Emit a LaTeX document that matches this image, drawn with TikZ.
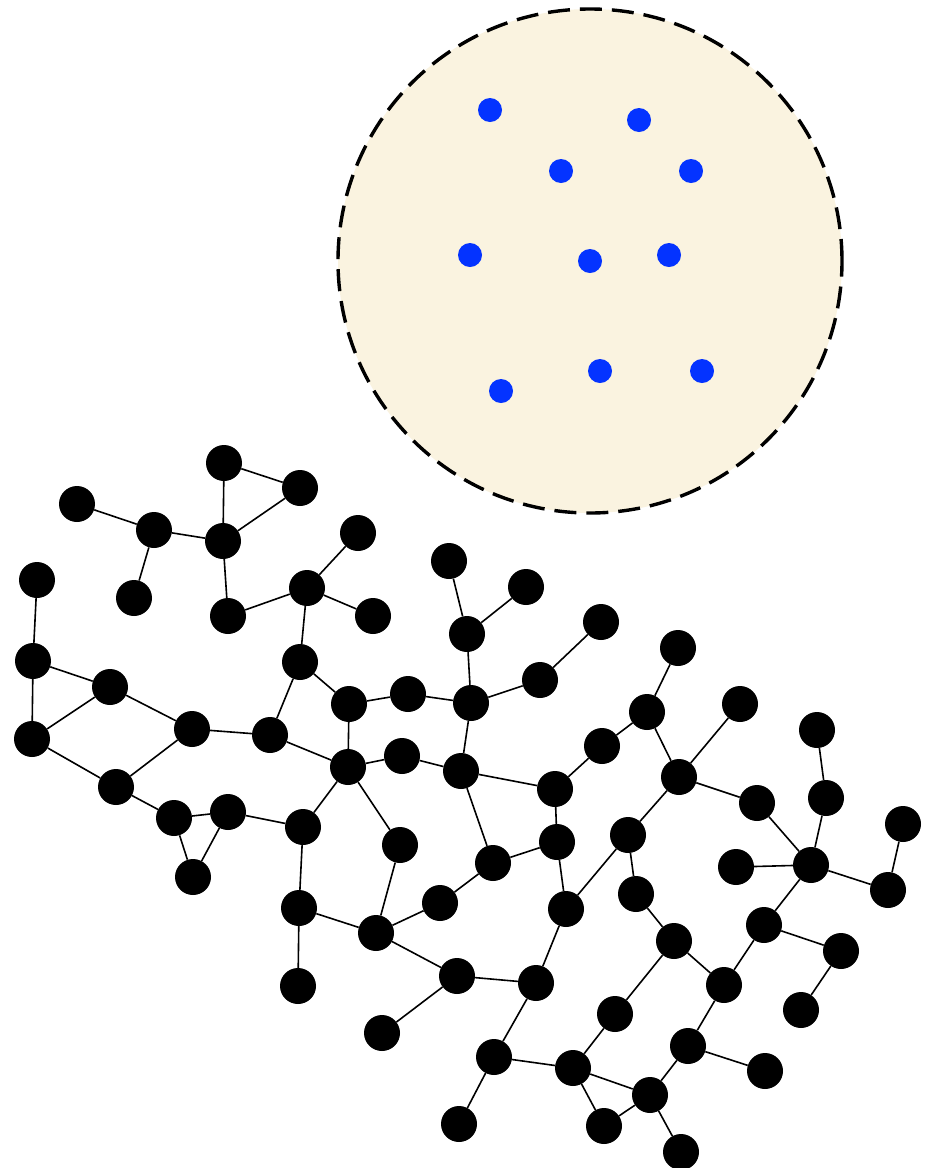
\documentclass[tikz,border=0pt]{standalone}
\usepackage{tikz}
\usetikzlibrary{arrows.meta,positioning}
\definecolor{cream}{HTML}{FAF3E0}
\definecolor{dotblue}{HTML}{0433FF}
\tikzset{
  vertex/.style={
    circle, fill=black, draw=none,
    minimum size=36pt, inner sep=0pt
  },
  dotnode/.style={
    circle, fill=dotblue, draw=none,
    minimum size=24pt, inner sep=0pt
  },
  edge/.style={
    line width=1.6pt, color=black
  },
  poolring/.style={
    circle, fill=cream, draw=black, line width=3.4pt,
    dash pattern=on 22pt off 10pt,
    minimum size=504pt, inner sep=0pt
  },
}

\begin{document}
\begin{tikzpicture}[x=1pt, y=-1pt]

\useasboundingbox (0,0) rectangle (928,1168);

% POOL: dashed disc with loose points
\node[poolring] (pool) at (590,261) {};
\node[dotnode] (p1) at (490,110) {};
\node[dotnode] (p2) at (639,120) {};
\node[dotnode] (p3) at (561,171) {};
\node[dotnode] (p4) at (691,171) {};
\node[dotnode] (p5) at (470,255) {};
\node[dotnode] (p6) at (590,261) {};
\node[dotnode] (p7) at (669,255) {};
\node[dotnode] (p8) at (501,391) {};
\node[dotnode] (p9) at (600,371) {};
\node[dotnode] (p10) at (702,371) {};

% GRAPH: upper left cluster
\node[vertex] (v1) at (224,463) {};
\node[vertex] (v2) at (300,488) {};
\node[vertex] (v3) at (223,541) {};
\node[vertex] (v4) at (154,530) {};
\node[vertex] (v5) at (77,504) {};
\node[vertex] (v6) at (134,598) {};
\node[vertex] (v7) at (228,616) {};
\node[vertex] (v8) at (307,588) {};
\node[vertex] (v9) at (358,533) {};
\node[vertex] (v10) at (373,616) {};

% left side
\node[vertex] (v11) at (37,580) {};
\node[vertex] (v12) at (33,661) {};
\node[vertex] (v13) at (110,687) {};
\node[vertex] (v14) at (32,739) {};
\node[vertex] (v15) at (192,729) {};
\node[vertex] (v16) at (116,787) {};
\node[vertex] (v17) at (174,818) {};
\node[vertex] (v18) at (228,812) {};
\node[vertex] (v19) at (193,877) {};
\node[vertex] (v20) at (270,735) {};

% middle
\node[vertex] (v21) at (300,662) {};
\node[vertex] (v22) at (349,704) {};
\node[vertex] (v23) at (408,694) {};
\node[vertex] (v24) at (471,703) {};
\node[vertex] (v25) at (467,634) {};
\node[vertex] (v26) at (449,561) {};
\node[vertex] (v27) at (526,587) {};
\node[vertex] (v28) at (540,680) {};
\node[vertex] (v29) at (601,622) {};
\node[vertex] (v30) at (348,767) {};
\node[vertex] (v31) at (402,756) {};
\node[vertex] (v32) at (461,771) {};
\node[vertex] (v33) at (555,789) {};
\node[vertex] (v34) at (602,746) {};
\node[vertex] (v35) at (647,712) {};
\node[vertex] (v36) at (678,648) {};
\node[vertex] (v37) at (679,777) {};
\node[vertex] (v38) at (740,704) {};

% lower middle
\node[vertex] (v39) at (303,827) {};
\node[vertex] (v40) at (400,845) {};
\node[vertex] (v41) at (493,863) {};
\node[vertex] (v42) at (557,842) {};
\node[vertex] (v43) at (299,908) {};
\node[vertex] (v44) at (298,986) {};
\node[vertex] (v45) at (376,933) {};
\node[vertex] (v46) at (440,903) {};
\node[vertex] (v47) at (566,909) {};
\node[vertex] (v48) at (628,835) {};
\node[vertex] (v49) at (636,894) {};
\node[vertex] (v50) at (674,941) {};
\node[vertex] (v51) at (457,976) {};
\node[vertex] (v52) at (536,983) {};
\node[vertex] (v53) at (382,1033) {};

% bottom
\node[vertex] (v54) at (494,1057) {};
\node[vertex] (v55) at (459,1124) {};
\node[vertex] (v56) at (573,1068) {};
\node[vertex] (v57) at (615,1014) {};
\node[vertex] (v58) at (604,1126) {};
\node[vertex] (v59) at (650,1095) {};
\node[vertex] (v60) at (681,1152) {};
\node[vertex] (v61) at (688,1046) {};
\node[vertex] (v62) at (724,985) {};
\node[vertex] (v63) at (765,1071) {};

% right side
\node[vertex] (v64) at (764,925) {};
\node[vertex] (v65) at (841,951) {};
\node[vertex] (v66) at (801,1010) {};
\node[vertex] (v67) at (757,803) {};
\node[vertex] (v68) at (817,730) {};
\node[vertex] (v69) at (826,798) {};
\node[vertex] (v70) at (811,865) {};
\node[vertex] (v71) at (736,867) {};
\node[vertex] (v72) at (888,890) {};
\node[vertex] (v73) at (903,824) {};

% Edges: upper left cluster
\draw[edge] (v1) -- (v2);
\draw[edge] (v1) -- (v3);
\draw[edge] (v2) -- (v3);
\draw[edge] (v4) -- (v5);
\draw[edge] (v4) -- (v3);
\draw[edge] (v4) -- (v6);
\draw[edge] (v3) -- (v7);
\draw[edge] (v7) -- (v8);
\draw[edge] (v8) -- (v9);
\draw[edge] (v8) -- (v10);
\draw[edge] (v8) -- (v21);

% Edges: left side
\draw[edge] (v11) -- (v12);
\draw[edge] (v12) -- (v13);
\draw[edge] (v12) -- (v14);
\draw[edge] (v14) -- (v13);
\draw[edge] (v13) -- (v15);
\draw[edge] (v14) -- (v16);
\draw[edge] (v16) -- (v15);
\draw[edge] (v15) -- (v20);
\draw[edge] (v16) -- (v17);
\draw[edge] (v17) -- (v18);
\draw[edge] (v17) -- (v19);
\draw[edge] (v18) -- (v19);
\draw[edge] (v18) -- (v39);

% Edges: middle
\draw[edge] (v21) -- (v20);
\draw[edge] (v21) -- (v22);
\draw[edge] (v20) -- (v30);
\draw[edge] (v22) -- (v30);
\draw[edge] (v22) -- (v23);
\draw[edge] (v23) -- (v24);
\draw[edge] (v24) -- (v25);
\draw[edge] (v25) -- (v26);
\draw[edge] (v25) -- (v27);
\draw[edge] (v24) -- (v28);
\draw[edge] (v28) -- (v29);
\draw[edge] (v24) -- (v32);
\draw[edge] (v30) -- (v31);
\draw[edge] (v31) -- (v32);
\draw[edge] (v32) -- (v33);
\draw[edge] (v32) -- (v41);
\draw[edge] (v30) -- (v39);
\draw[edge] (v30) -- (v40);
\draw[edge] (v33) -- (v34);
\draw[edge] (v34) -- (v35);
\draw[edge] (v35) -- (v36);
\draw[edge] (v35) -- (v37);
\draw[edge] (v37) -- (v38);
\draw[edge] (v37) -- (v67);
\draw[edge] (v37) -- (v48);

% Edges: lower middle
\draw[edge] (v48) -- (v47);
\draw[edge] (v48) -- (v49);
\draw[edge] (v33) -- (v42);
\draw[edge] (v42) -- (v41);
\draw[edge] (v42) -- (v47);
\draw[edge] (v41) -- (v46);
\draw[edge] (v46) -- (v45);
\draw[edge] (v40) -- (v45);
\draw[edge] (v39) -- (v43);
\draw[edge] (v43) -- (v44);
\draw[edge] (v43) -- (v45);
\draw[edge] (v45) -- (v51);
\draw[edge] (v51) -- (v53);
\draw[edge] (v51) -- (v52);
\draw[edge] (v52) -- (v47);
\draw[edge] (v52) -- (v54);

% Edges: bottom
\draw[edge] (v54) -- (v55);
\draw[edge] (v54) -- (v56);
\draw[edge] (v56) -- (v57);
\draw[edge] (v57) -- (v50);
\draw[edge] (v49) -- (v50);
\draw[edge] (v50) -- (v62);
\draw[edge] (v56) -- (v59);
\draw[edge] (v56) -- (v58);
\draw[edge] (v58) -- (v59);
\draw[edge] (v59) -- (v60);
\draw[edge] (v59) -- (v61);
\draw[edge] (v61) -- (v62);
\draw[edge] (v61) -- (v63);

% Edges: right side
\draw[edge] (v62) -- (v64);
\draw[edge] (v64) -- (v65);
\draw[edge] (v65) -- (v66);
\draw[edge] (v64) -- (v70);
\draw[edge] (v67) -- (v70);
\draw[edge] (v71) -- (v70);
\draw[edge] (v69) -- (v70);
\draw[edge] (v68) -- (v69);
\draw[edge] (v70) -- (v72);
\draw[edge] (v72) -- (v73);

\end{tikzpicture}
\end{document}
